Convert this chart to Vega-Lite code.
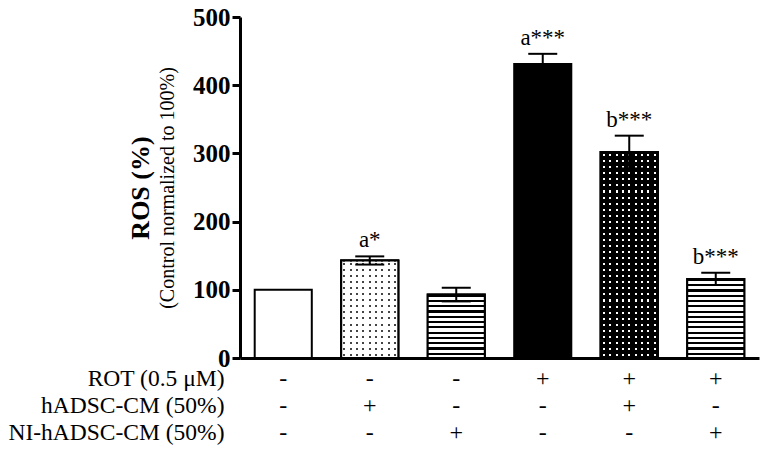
{
  "$schema": "https://vega.github.io/schema/vega-lite/v6.json",
  "padding": {"left": 7, "top": 5, "right": 5, "bottom": 0},
  "background": "white",
  "bounds": "flush",
  "spacing": 7,
  "config": {
    "view": {"stroke": null},
    "font": "Liberation Serif",
    "axis": {"labelFont": "Liberation Serif", "titleFont": "Liberation Serif"}
  },
  "datasets": {
    "bars": [
      {"group": "G1", "mean": 100, "lo": 100, "hi": 100, "label": ""},
      {"group": "G2", "mean": 143, "lo": 137, "hi": 149, "label": "a*"},
      {"group": "G3", "mean": 93, "lo": 83, "hi": 103, "label": ""},
      {"group": "G4", "mean": 431, "lo": 416, "hi": 446, "label": "a***"},
      {"group": "G5", "mean": 302, "lo": 278, "hi": 326, "label": "b***"},
      {"group": "G6", "mean": 116, "lo": 107, "hi": 125, "label": "b***"}
    ],
    "table": [
      {"group": "G1", "row": "ROT (0.5 μM)", "sym": "-"},
      {"group": "G2", "row": "ROT (0.5 μM)", "sym": "-"},
      {"group": "G3", "row": "ROT (0.5 μM)", "sym": "-"},
      {"group": "G4", "row": "ROT (0.5 μM)", "sym": "+"},
      {"group": "G5", "row": "ROT (0.5 μM)", "sym": "+"},
      {"group": "G6", "row": "ROT (0.5 μM)", "sym": "+"},
      {"group": "G1", "row": "hADSC-CM (50%)", "sym": "-"},
      {"group": "G2", "row": "hADSC-CM (50%)", "sym": "+"},
      {"group": "G3", "row": "hADSC-CM (50%)", "sym": "-"},
      {"group": "G4", "row": "hADSC-CM (50%)", "sym": "-"},
      {"group": "G5", "row": "hADSC-CM (50%)", "sym": "+"},
      {"group": "G6", "row": "hADSC-CM (50%)", "sym": "-"},
      {"group": "G1", "row": "NI-hADSC-CM (50%)", "sym": "-"},
      {"group": "G2", "row": "NI-hADSC-CM (50%)", "sym": "-"},
      {"group": "G3", "row": "NI-hADSC-CM (50%)", "sym": "+"},
      {"group": "G4", "row": "NI-hADSC-CM (50%)", "sym": "-"},
      {"group": "G5", "row": "NI-hADSC-CM (50%)", "sym": "-"},
      {"group": "G6", "row": "NI-hADSC-CM (50%)", "sym": "+"}
    ]
  },
  "vconcat": [
    {
      "width": 519,
      "height": 341,
      "data": {"name": "bars"},
      "encoding": {
        "x": {
          "field": "group",
          "type": "nominal",
          "scale": {"paddingInner": 0.34, "paddingOuter": 0.17},
          "axis": {"labels": false, "ticks": false, "title": null, "domainWidth": 3, "domainColor": "black", "minExtent": 0, "labelPadding": 0}
        }
      },
      "layer": [
        {
          "mark": {"type": "bar", "stroke": "black", "strokeWidth": 2},
          "encoding": {
            "y": {
              "field": "mean",
              "type": "quantitative",
              "scale": {"domain": [0, 500], "nice": false},
              "axis": {
                "orient": "left",
                "values": [0, 100, 200, 300, 400, 500],
                "grid": false,
                "labelFont": "Liberation Serif",
                "labelFontWeight": "bold",
                "labelFontSize": 25,
                "labelColor": "black",
                "labelPadding": 2,
                "tickSize": 8,
                "tickWidth": 3,
                "tickColor": "black",
                "domainWidth": 3,
                "domainColor": "black",
                "title": "(Control normalized to 100%)",
                "titleFont": "Liberation Serif",
                "titleFontWeight": "normal",
                "titleFontSize": 20,
                "titleColor": "black",
                "titlePadding": 15
              }
            },
            "fill": {
              "field": "group",
              "type": "nominal",
              "scale": {"domain": ["G1", "G2", "G3", "G4", "G5", "G6"], "range": ["#ffffff", "#ffffff", "#777777", "#000000", "#000000", "#777777"]},
              "legend": null
            }
          }
        },
        {
          "transform": [{"filter": "datum.group === 'G2'"}],
          "mark": {
            "type": "bar", "stroke": "black", "strokeWidth": 2,
            "fill": {"gradient": "linear", "x1": 0, "y1": 0, "x2": 0, "y2": 1, "stops": [
              {"offset": 0.022, "color": "#fff"}, {"offset": 0.022, "color": "#444"}, {"offset": 0.042, "color": "#444"}, {"offset": 0.042, "color": "#fff"},
              {"offset": 0.0845, "color": "#fff"}, {"offset": 0.0845, "color": "#444"}, {"offset": 0.1045, "color": "#444"}, {"offset": 0.1045, "color": "#fff"},
              {"offset": 0.147, "color": "#fff"}, {"offset": 0.147, "color": "#444"}, {"offset": 0.167, "color": "#444"}, {"offset": 0.167, "color": "#fff"},
              {"offset": 0.2095, "color": "#fff"}, {"offset": 0.2095, "color": "#444"}, {"offset": 0.2295, "color": "#444"}, {"offset": 0.2295, "color": "#fff"},
              {"offset": 0.272, "color": "#fff"}, {"offset": 0.272, "color": "#444"}, {"offset": 0.292, "color": "#444"}, {"offset": 0.292, "color": "#fff"},
              {"offset": 0.3345, "color": "#fff"}, {"offset": 0.3345, "color": "#444"}, {"offset": 0.3545, "color": "#444"}, {"offset": 0.3545, "color": "#fff"},
              {"offset": 0.397, "color": "#fff"}, {"offset": 0.397, "color": "#444"}, {"offset": 0.417, "color": "#444"}, {"offset": 0.417, "color": "#fff"},
              {"offset": 0.4595, "color": "#fff"}, {"offset": 0.4595, "color": "#444"}, {"offset": 0.4795, "color": "#444"}, {"offset": 0.4795, "color": "#fff"},
              {"offset": 0.522, "color": "#fff"}, {"offset": 0.522, "color": "#444"}, {"offset": 0.542, "color": "#444"}, {"offset": 0.542, "color": "#fff"},
              {"offset": 0.5845, "color": "#fff"}, {"offset": 0.5845, "color": "#444"}, {"offset": 0.6045, "color": "#444"}, {"offset": 0.6045, "color": "#fff"},
              {"offset": 0.647, "color": "#fff"}, {"offset": 0.647, "color": "#444"}, {"offset": 0.667, "color": "#444"}, {"offset": 0.667, "color": "#fff"},
              {"offset": 0.7095, "color": "#fff"}, {"offset": 0.7095, "color": "#444"}, {"offset": 0.7295, "color": "#444"}, {"offset": 0.7295, "color": "#fff"},
              {"offset": 0.772, "color": "#fff"}, {"offset": 0.772, "color": "#444"}, {"offset": 0.792, "color": "#444"}, {"offset": 0.792, "color": "#fff"},
              {"offset": 0.8345, "color": "#fff"}, {"offset": 0.8345, "color": "#444"}, {"offset": 0.8545, "color": "#444"}, {"offset": 0.8545, "color": "#fff"},
              {"offset": 0.897, "color": "#fff"}, {"offset": 0.897, "color": "#444"}, {"offset": 0.917, "color": "#444"}, {"offset": 0.917, "color": "#fff"},
              {"offset": 0.9595, "color": "#fff"}, {"offset": 0.9595, "color": "#444"}, {"offset": 0.9795, "color": "#444"}, {"offset": 0.9795, "color": "#fff"}
            ]}
          },
          "encoding": {"y": {"field": "mean", "type": "quantitative", "axis": null}}
        },
        {
          "transform": [{"filter": "datum.group === 'G2'"}],
          "mark": {
            "type": "bar", "stroke": "black", "strokeWidth": 2,
            "fill": {"gradient": "linear", "x1": 0, "y1": 0, "x2": 1, "y2": 0, "stops": [
              {"offset": 0.038, "color": "rgba(255,255,255,1)"}, {"offset": 0.038, "color": "rgba(255,255,255,0)"}, {"offset": 0.073, "color": "rgba(255,255,255,0)"}, {"offset": 0.073, "color": "rgba(255,255,255,1)"},
              {"offset": 0.1491, "color": "rgba(255,255,255,1)"}, {"offset": 0.1491, "color": "rgba(255,255,255,0)"}, {"offset": 0.1841, "color": "rgba(255,255,255,0)"}, {"offset": 0.1841, "color": "rgba(255,255,255,1)"},
              {"offset": 0.2602, "color": "rgba(255,255,255,1)"}, {"offset": 0.2602, "color": "rgba(255,255,255,0)"}, {"offset": 0.2952, "color": "rgba(255,255,255,0)"}, {"offset": 0.2952, "color": "rgba(255,255,255,1)"},
              {"offset": 0.3713, "color": "rgba(255,255,255,1)"}, {"offset": 0.3713, "color": "rgba(255,255,255,0)"}, {"offset": 0.4063, "color": "rgba(255,255,255,0)"}, {"offset": 0.4063, "color": "rgba(255,255,255,1)"},
              {"offset": 0.4824, "color": "rgba(255,255,255,1)"}, {"offset": 0.4824, "color": "rgba(255,255,255,0)"}, {"offset": 0.5174, "color": "rgba(255,255,255,0)"}, {"offset": 0.5174, "color": "rgba(255,255,255,1)"},
              {"offset": 0.5936, "color": "rgba(255,255,255,1)"}, {"offset": 0.5936, "color": "rgba(255,255,255,0)"}, {"offset": 0.6286, "color": "rgba(255,255,255,0)"}, {"offset": 0.6286, "color": "rgba(255,255,255,1)"},
              {"offset": 0.7047, "color": "rgba(255,255,255,1)"}, {"offset": 0.7047, "color": "rgba(255,255,255,0)"}, {"offset": 0.7397, "color": "rgba(255,255,255,0)"}, {"offset": 0.7397, "color": "rgba(255,255,255,1)"},
              {"offset": 0.8158, "color": "rgba(255,255,255,1)"}, {"offset": 0.8158, "color": "rgba(255,255,255,0)"}, {"offset": 0.8508, "color": "rgba(255,255,255,0)"}, {"offset": 0.8508, "color": "rgba(255,255,255,1)"},
              {"offset": 0.9269, "color": "rgba(255,255,255,1)"}, {"offset": 0.9269, "color": "rgba(255,255,255,0)"}, {"offset": 0.9619, "color": "rgba(255,255,255,0)"}, {"offset": 0.9619, "color": "rgba(255,255,255,1)"}
            ]}
          },
          "encoding": {"y": {"field": "mean", "type": "quantitative", "axis": null}}
        },
        {
          "transform": [{"filter": "datum.group === 'G5'"}],
          "mark": {
            "type": "bar", "stroke": "black", "strokeWidth": 2,
            "fill": {"gradient": "linear", "x1": 0, "y1": 0, "x2": 0, "y2": 1, "stops": [
              {"offset": 0.01, "color": "#000"}, {"offset": 0.01, "color": "#fff"}, {"offset": 0.02, "color": "#fff"}, {"offset": 0.02, "color": "#000"},
              {"offset": 0.0394, "color": "#000"}, {"offset": 0.0394, "color": "#fff"}, {"offset": 0.0494, "color": "#fff"}, {"offset": 0.0494, "color": "#000"},
              {"offset": 0.0688, "color": "#000"}, {"offset": 0.0688, "color": "#fff"}, {"offset": 0.0788, "color": "#fff"}, {"offset": 0.0788, "color": "#000"},
              {"offset": 0.0982, "color": "#000"}, {"offset": 0.0982, "color": "#fff"}, {"offset": 0.1082, "color": "#fff"}, {"offset": 0.1082, "color": "#000"},
              {"offset": 0.1276, "color": "#000"}, {"offset": 0.1276, "color": "#fff"}, {"offset": 0.1376, "color": "#fff"}, {"offset": 0.1376, "color": "#000"},
              {"offset": 0.1571, "color": "#000"}, {"offset": 0.1571, "color": "#fff"}, {"offset": 0.1671, "color": "#fff"}, {"offset": 0.1671, "color": "#000"},
              {"offset": 0.1865, "color": "#000"}, {"offset": 0.1865, "color": "#fff"}, {"offset": 0.1965, "color": "#fff"}, {"offset": 0.1965, "color": "#000"},
              {"offset": 0.2159, "color": "#000"}, {"offset": 0.2159, "color": "#fff"}, {"offset": 0.2259, "color": "#fff"}, {"offset": 0.2259, "color": "#000"},
              {"offset": 0.2453, "color": "#000"}, {"offset": 0.2453, "color": "#fff"}, {"offset": 0.2553, "color": "#fff"}, {"offset": 0.2553, "color": "#000"},
              {"offset": 0.2747, "color": "#000"}, {"offset": 0.2747, "color": "#fff"}, {"offset": 0.2847, "color": "#fff"}, {"offset": 0.2847, "color": "#000"},
              {"offset": 0.3041, "color": "#000"}, {"offset": 0.3041, "color": "#fff"}, {"offset": 0.3141, "color": "#fff"}, {"offset": 0.3141, "color": "#000"},
              {"offset": 0.3335, "color": "#000"}, {"offset": 0.3335, "color": "#fff"}, {"offset": 0.3435, "color": "#fff"}, {"offset": 0.3435, "color": "#000"},
              {"offset": 0.3629, "color": "#000"}, {"offset": 0.3629, "color": "#fff"}, {"offset": 0.3729, "color": "#fff"}, {"offset": 0.3729, "color": "#000"},
              {"offset": 0.3924, "color": "#000"}, {"offset": 0.3924, "color": "#fff"}, {"offset": 0.4024, "color": "#fff"}, {"offset": 0.4024, "color": "#000"},
              {"offset": 0.4218, "color": "#000"}, {"offset": 0.4218, "color": "#fff"}, {"offset": 0.4318, "color": "#fff"}, {"offset": 0.4318, "color": "#000"},
              {"offset": 0.4512, "color": "#000"}, {"offset": 0.4512, "color": "#fff"}, {"offset": 0.4612, "color": "#fff"}, {"offset": 0.4612, "color": "#000"},
              {"offset": 0.4806, "color": "#000"}, {"offset": 0.4806, "color": "#fff"}, {"offset": 0.4906, "color": "#fff"}, {"offset": 0.4906, "color": "#000"},
              {"offset": 0.51, "color": "#000"}, {"offset": 0.51, "color": "#fff"}, {"offset": 0.52, "color": "#fff"}, {"offset": 0.52, "color": "#000"},
              {"offset": 0.5394, "color": "#000"}, {"offset": 0.5394, "color": "#fff"}, {"offset": 0.5494, "color": "#fff"}, {"offset": 0.5494, "color": "#000"},
              {"offset": 0.5688, "color": "#000"}, {"offset": 0.5688, "color": "#fff"}, {"offset": 0.5788, "color": "#fff"}, {"offset": 0.5788, "color": "#000"},
              {"offset": 0.5982, "color": "#000"}, {"offset": 0.5982, "color": "#fff"}, {"offset": 0.6082, "color": "#fff"}, {"offset": 0.6082, "color": "#000"},
              {"offset": 0.6276, "color": "#000"}, {"offset": 0.6276, "color": "#fff"}, {"offset": 0.6376, "color": "#fff"}, {"offset": 0.6376, "color": "#000"},
              {"offset": 0.6571, "color": "#000"}, {"offset": 0.6571, "color": "#fff"}, {"offset": 0.6671, "color": "#fff"}, {"offset": 0.6671, "color": "#000"},
              {"offset": 0.6865, "color": "#000"}, {"offset": 0.6865, "color": "#fff"}, {"offset": 0.6965, "color": "#fff"}, {"offset": 0.6965, "color": "#000"},
              {"offset": 0.7159, "color": "#000"}, {"offset": 0.7159, "color": "#fff"}, {"offset": 0.7259, "color": "#fff"}, {"offset": 0.7259, "color": "#000"},
              {"offset": 0.7453, "color": "#000"}, {"offset": 0.7453, "color": "#fff"}, {"offset": 0.7553, "color": "#fff"}, {"offset": 0.7553, "color": "#000"},
              {"offset": 0.7747, "color": "#000"}, {"offset": 0.7747, "color": "#fff"}, {"offset": 0.7847, "color": "#fff"}, {"offset": 0.7847, "color": "#000"},
              {"offset": 0.8041, "color": "#000"}, {"offset": 0.8041, "color": "#fff"}, {"offset": 0.8141, "color": "#fff"}, {"offset": 0.8141, "color": "#000"},
              {"offset": 0.8335, "color": "#000"}, {"offset": 0.8335, "color": "#fff"}, {"offset": 0.8435, "color": "#fff"}, {"offset": 0.8435, "color": "#000"},
              {"offset": 0.8629, "color": "#000"}, {"offset": 0.8629, "color": "#fff"}, {"offset": 0.8729, "color": "#fff"}, {"offset": 0.8729, "color": "#000"},
              {"offset": 0.8924, "color": "#000"}, {"offset": 0.8924, "color": "#fff"}, {"offset": 0.9024, "color": "#fff"}, {"offset": 0.9024, "color": "#000"},
              {"offset": 0.9218, "color": "#000"}, {"offset": 0.9218, "color": "#fff"}, {"offset": 0.9318, "color": "#fff"}, {"offset": 0.9318, "color": "#000"},
              {"offset": 0.9512, "color": "#000"}, {"offset": 0.9512, "color": "#fff"}, {"offset": 0.9612, "color": "#fff"}, {"offset": 0.9612, "color": "#000"},
              {"offset": 0.9806, "color": "#000"}, {"offset": 0.9806, "color": "#fff"}, {"offset": 0.9906, "color": "#fff"}, {"offset": 0.9906, "color": "#000"}
            ]}
          },
          "encoding": {"y": {"field": "mean", "type": "quantitative", "axis": null}}
        },
        {
          "transform": [{"filter": "datum.group === 'G5'"}],
          "mark": {
            "type": "bar", "stroke": "black", "strokeWidth": 2,
            "fill": {"gradient": "linear", "x1": 0, "y1": 0, "x2": 1, "y2": 0, "stops": [
              {"offset": 0.038, "color": "rgba(0,0,0,1)"}, {"offset": 0.038, "color": "rgba(0,0,0,0)"}, {"offset": 0.073, "color": "rgba(0,0,0,0)"}, {"offset": 0.073, "color": "rgba(0,0,0,1)"},
              {"offset": 0.1491, "color": "rgba(0,0,0,1)"}, {"offset": 0.1491, "color": "rgba(0,0,0,0)"}, {"offset": 0.1841, "color": "rgba(0,0,0,0)"}, {"offset": 0.1841, "color": "rgba(0,0,0,1)"},
              {"offset": 0.2602, "color": "rgba(0,0,0,1)"}, {"offset": 0.2602, "color": "rgba(0,0,0,0)"}, {"offset": 0.2952, "color": "rgba(0,0,0,0)"}, {"offset": 0.2952, "color": "rgba(0,0,0,1)"},
              {"offset": 0.3713, "color": "rgba(0,0,0,1)"}, {"offset": 0.3713, "color": "rgba(0,0,0,0)"}, {"offset": 0.4063, "color": "rgba(0,0,0,0)"}, {"offset": 0.4063, "color": "rgba(0,0,0,1)"},
              {"offset": 0.4824, "color": "rgba(0,0,0,1)"}, {"offset": 0.4824, "color": "rgba(0,0,0,0)"}, {"offset": 0.5174, "color": "rgba(0,0,0,0)"}, {"offset": 0.5174, "color": "rgba(0,0,0,1)"},
              {"offset": 0.5936, "color": "rgba(0,0,0,1)"}, {"offset": 0.5936, "color": "rgba(0,0,0,0)"}, {"offset": 0.6286, "color": "rgba(0,0,0,0)"}, {"offset": 0.6286, "color": "rgba(0,0,0,1)"},
              {"offset": 0.7047, "color": "rgba(0,0,0,1)"}, {"offset": 0.7047, "color": "rgba(0,0,0,0)"}, {"offset": 0.7397, "color": "rgba(0,0,0,0)"}, {"offset": 0.7397, "color": "rgba(0,0,0,1)"},
              {"offset": 0.8158, "color": "rgba(0,0,0,1)"}, {"offset": 0.8158, "color": "rgba(0,0,0,0)"}, {"offset": 0.8508, "color": "rgba(0,0,0,0)"}, {"offset": 0.8508, "color": "rgba(0,0,0,1)"},
              {"offset": 0.9269, "color": "rgba(0,0,0,1)"}, {"offset": 0.9269, "color": "rgba(0,0,0,0)"}, {"offset": 0.9619, "color": "rgba(0,0,0,0)"}, {"offset": 0.9619, "color": "rgba(0,0,0,1)"}
            ]}
          },
          "encoding": {"y": {"field": "mean", "type": "quantitative", "axis": null}}
        },
        {
          "transform": [{"filter": "datum.group === 'G3'"}],
          "mark": {
            "type": "bar", "stroke": "black", "strokeWidth": 2,
            "fill": {"gradient": "linear", "x1": 0, "y1": 0, "x2": 0, "y2": 1, "stops": [
              {"offset": 0, "color": "#000"}, {"offset": 0.0333, "color": "#000"}, {"offset": 0.0333, "color": "#fff"}, {"offset": 0.0833, "color": "#fff"},
              {"offset": 0.0833, "color": "#000"}, {"offset": 0.1167, "color": "#000"}, {"offset": 0.1167, "color": "#fff"}, {"offset": 0.1667, "color": "#fff"},
              {"offset": 0.1667, "color": "#000"}, {"offset": 0.2, "color": "#000"}, {"offset": 0.2, "color": "#fff"}, {"offset": 0.25, "color": "#fff"},
              {"offset": 0.25, "color": "#000"}, {"offset": 0.2833, "color": "#000"}, {"offset": 0.2833, "color": "#fff"}, {"offset": 0.3333, "color": "#fff"},
              {"offset": 0.3333, "color": "#000"}, {"offset": 0.3667, "color": "#000"}, {"offset": 0.3667, "color": "#fff"}, {"offset": 0.4167, "color": "#fff"},
              {"offset": 0.4167, "color": "#000"}, {"offset": 0.45, "color": "#000"}, {"offset": 0.45, "color": "#fff"}, {"offset": 0.5, "color": "#fff"},
              {"offset": 0.5, "color": "#000"}, {"offset": 0.5333, "color": "#000"}, {"offset": 0.5333, "color": "#fff"}, {"offset": 0.5833, "color": "#fff"},
              {"offset": 0.5833, "color": "#000"}, {"offset": 0.6167, "color": "#000"}, {"offset": 0.6167, "color": "#fff"}, {"offset": 0.6667, "color": "#fff"},
              {"offset": 0.6667, "color": "#000"}, {"offset": 0.7, "color": "#000"}, {"offset": 0.7, "color": "#fff"}, {"offset": 0.75, "color": "#fff"},
              {"offset": 0.75, "color": "#000"}, {"offset": 0.7833, "color": "#000"}, {"offset": 0.7833, "color": "#fff"}, {"offset": 0.8333, "color": "#fff"},
              {"offset": 0.8333, "color": "#000"}, {"offset": 0.8667, "color": "#000"}, {"offset": 0.8667, "color": "#fff"}, {"offset": 0.9167, "color": "#fff"},
              {"offset": 0.9167, "color": "#000"}, {"offset": 0.95, "color": "#000"}, {"offset": 0.95, "color": "#fff"}, {"offset": 1, "color": "#fff"}
            ]}
          },
          "encoding": {"y": {"field": "mean", "type": "quantitative", "axis": null}}
        },
        {
          "transform": [{"filter": "datum.group === 'G6'"}],
          "mark": {
            "type": "bar", "stroke": "black", "strokeWidth": 2,
            "fill": {"gradient": "linear", "x1": 0, "y1": 0, "x2": 0, "y2": 1, "stops": [
              {"offset": 0, "color": "#000"}, {"offset": 0.0267, "color": "#000"}, {"offset": 0.0267, "color": "#fff"}, {"offset": 0.0667, "color": "#fff"},
              {"offset": 0.0667, "color": "#000"}, {"offset": 0.0933, "color": "#000"}, {"offset": 0.0933, "color": "#fff"}, {"offset": 0.1333, "color": "#fff"},
              {"offset": 0.1333, "color": "#000"}, {"offset": 0.16, "color": "#000"}, {"offset": 0.16, "color": "#fff"}, {"offset": 0.2, "color": "#fff"},
              {"offset": 0.2, "color": "#000"}, {"offset": 0.2267, "color": "#000"}, {"offset": 0.2267, "color": "#fff"}, {"offset": 0.2667, "color": "#fff"},
              {"offset": 0.2667, "color": "#000"}, {"offset": 0.2933, "color": "#000"}, {"offset": 0.2933, "color": "#fff"}, {"offset": 0.3333, "color": "#fff"},
              {"offset": 0.3333, "color": "#000"}, {"offset": 0.36, "color": "#000"}, {"offset": 0.36, "color": "#fff"}, {"offset": 0.4, "color": "#fff"},
              {"offset": 0.4, "color": "#000"}, {"offset": 0.4267, "color": "#000"}, {"offset": 0.4267, "color": "#fff"}, {"offset": 0.4667, "color": "#fff"},
              {"offset": 0.4667, "color": "#000"}, {"offset": 0.4933, "color": "#000"}, {"offset": 0.4933, "color": "#fff"}, {"offset": 0.5333, "color": "#fff"},
              {"offset": 0.5333, "color": "#000"}, {"offset": 0.56, "color": "#000"}, {"offset": 0.56, "color": "#fff"}, {"offset": 0.6, "color": "#fff"},
              {"offset": 0.6, "color": "#000"}, {"offset": 0.6267, "color": "#000"}, {"offset": 0.6267, "color": "#fff"}, {"offset": 0.6667, "color": "#fff"},
              {"offset": 0.6667, "color": "#000"}, {"offset": 0.6933, "color": "#000"}, {"offset": 0.6933, "color": "#fff"}, {"offset": 0.7333, "color": "#fff"},
              {"offset": 0.7333, "color": "#000"}, {"offset": 0.76, "color": "#000"}, {"offset": 0.76, "color": "#fff"}, {"offset": 0.8, "color": "#fff"},
              {"offset": 0.8, "color": "#000"}, {"offset": 0.8267, "color": "#000"}, {"offset": 0.8267, "color": "#fff"}, {"offset": 0.8667, "color": "#fff"},
              {"offset": 0.8667, "color": "#000"}, {"offset": 0.8933, "color": "#000"}, {"offset": 0.8933, "color": "#fff"}, {"offset": 0.9333, "color": "#fff"},
              {"offset": 0.9333, "color": "#000"}, {"offset": 0.96, "color": "#000"}, {"offset": 0.96, "color": "#fff"}, {"offset": 1, "color": "#fff"}
            ]}
          },
          "encoding": {"y": {"field": "mean", "type": "quantitative", "axis": null}}
        },
        {
          "transform": [{"filter": "datum.hi > datum.mean"}],
          "mark": {"type": "rule", "strokeWidth": 2, "color": "black"},
          "encoding": {
            "y": {"field": "lo", "type": "quantitative", "axis": null},
            "y2": {"field": "hi"}
          }
        },
        {
          "transform": [{"filter": "datum.hi > datum.mean"}],
          "mark": {"type": "tick", "thickness": 2, "size": 29, "color": "black", "opacity": 1},
          "encoding": {"y": {"field": "lo", "type": "quantitative", "axis": null}}
        },
        {
          "transform": [{"filter": "datum.hi > datum.mean"}],
          "mark": {"type": "tick", "thickness": 2, "size": 29, "color": "black", "opacity": 1},
          "encoding": {
            "y": {
              "field": "hi",
              "type": "quantitative",
              "axis": {
                "orient": "left",
                "labels": false,
                "ticks": false,
                "domain": false,
                "grid": false,
                "offset": 87,
                "title": "ROS (%)",
                "titleFont": "Liberation Serif",
                "titleFontWeight": "bold",
                "titleFontSize": 26,
                "titleColor": "black",
                "titlePadding": 0
              }
            }
          }
        },
        {
          "mark": {"type": "text", "baseline": "bottom", "dy": -4, "fontSize": 23, "font": "Liberation Serif", "color": "black"},
          "encoding": {
            "y": {"field": "hi", "type": "quantitative", "axis": null},
            "text": {"field": "label"}
          }
        }
      ],
      "resolve": {"axis": {"y": "independent"}}
    },
    {
      "width": 519,
      "height": 81,
      "data": {"name": "table"},
      "mark": {"type": "text", "fontSize": 24, "font": "Liberation Serif", "color": "black"},
      "encoding": {
        "x": {
          "field": "group",
          "type": "nominal",
          "scale": {"paddingInner": 0.34, "paddingOuter": 0.17},
          "axis": null
        },
        "y": {
          "field": "row",
          "type": "nominal",
          "sort": ["ROT (0.5 μM)", "hADSC-CM (50%)", "NI-hADSC-CM (50%)"],
          "axis": {
            "title": null,
            "domain": false,
            "ticks": false,
            "labelFont": "Liberation Serif",
            "labelFontSize": 23.5,
            "labelColor": "black",
            "labelPadding": 16,
            "labelLimit": 400
          }
        },
        "text": {"field": "sym"}
      }
    }
  ]
}
